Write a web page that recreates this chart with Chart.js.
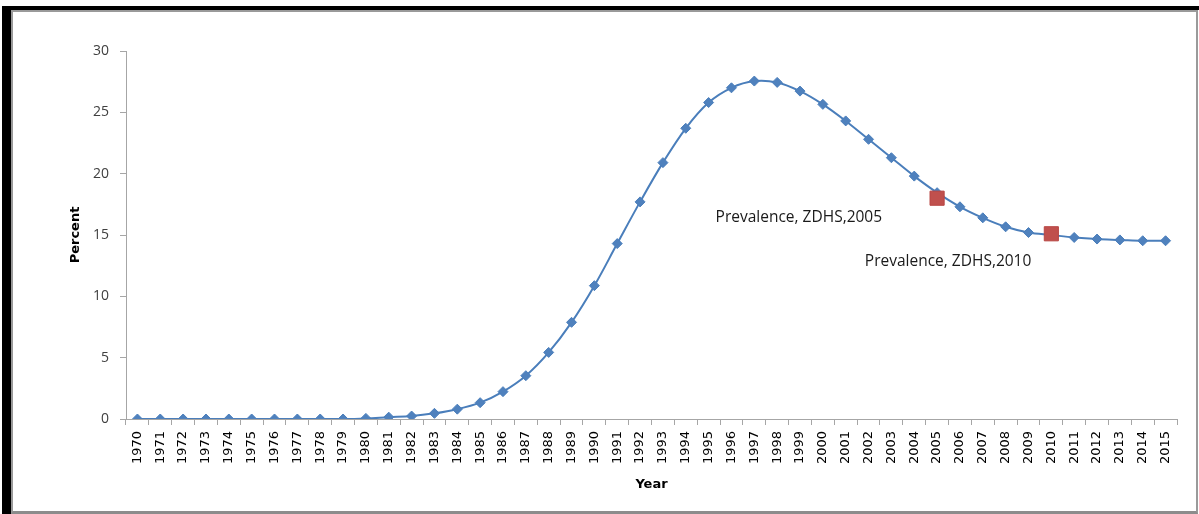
<!DOCTYPE html>
<html>
<head>
<meta charset="utf-8">
<script src="https://cdn.jsdelivr.net/npm/chart.js@4.4.1/dist/chart.umd.min.js"></script>
<style>
  html, body { margin: 0; padding: 0; background: #ffffff; }
  #wrap { position: relative; width: 1199px; height: 514px; overflow: hidden; background: #fff; }
  #c { position: absolute; left: 0; top: 0; }
  #frameBlack { position: absolute; left: 2px; top: 6px; right: 0; bottom: 0;
    border-left: 9px solid #000; border-top: 4px solid #000; pointer-events: none; }
  #frameGrey { position: absolute; left: 11px; top: 10px; right: 1px; bottom: 0;
    border-left: 2px solid #9a9a9a; border-top: 2px solid #9a9a9a;
    border-right: 2px solid #9a9a9a; border-bottom: 3px solid #8c8c8c; pointer-events: none; }
</style>
</head>
<body>
<div id="wrap">
  <canvas id="c" width="1199" height="514"></canvas>
  <div id="frameBlack"></div>
  <div id="frameGrey"></div>
</div>
<script>
// ---- Data ----
const years = ['1970','1971','1972','1973','1974','1975','1976','1977','1978','1979',
  '1980','1981','1982','1983','1984','1985','1986','1987','1988','1989',
  '1990','1991','1992','1993','1994','1995','1996','1997','1998','1999',
  '2000','2001','2002','2003','2004','2005','2006','2007','2008','2009',
  '2010','2011','2012','2013','2014','2015'];
const estimatedPrevalence = [0,0,0,0,0,0,0,0,0,0,
  0.05,0.15,0.24,0.46,0.8,1.33,2.23,3.53,5.43,7.88,
  10.87,14.3,17.7,20.9,23.7,25.8,27.0,27.55,27.44,26.73,
  25.65,24.3,22.8,21.3,19.8,18.45,17.3,16.4,15.67,15.2,
  15.0,14.8,14.67,14.6,14.53,14.53];
const surveyYears = ['2005','2010'];
const surveyValues = [18.0, 15.1];
const surveyLabels = ['Prevalence, ZDHS,2005', 'Prevalence, ZDHS,2010'];
const yTicks = [0,5,10,15,20,25,30];
const yTitle = 'Percent';
const xTitle = 'Year';

// label placement relative to each survey marker (styling, not data)
const labelOffsets = [{dx: -55, dy: 19}, {dx: -20, dy: 28}];

const surveyLabelPlugin = {
  id: 'surveyLabels',
  afterDatasetsDraw(chart) {
    const meta = chart.getDatasetMeta(1);
    const ctx = chart.ctx;
    ctx.save();
    ctx.font = '15.5px "Open Sans", "Noto Sans", sans-serif';
    ctx.fillStyle = '#1a1a1a';
    ctx.textAlign = 'right';
    ctx.textBaseline = 'middle';
    meta.data.forEach((pt, i) => {
      const off = labelOffsets[i];
      ctx.fillText(surveyLabels[i], pt.x + off.dx, pt.y + off.dy);
    });
    ctx.restore();
  }
};

new Chart(document.getElementById('c'), {
  type: 'line',
  data: {
    labels: years,
    datasets: [
      {
        label: 'Estimated prevalence',
        data: estimatedPrevalence,
        borderColor: '#4A7EBB',
        backgroundColor: '#4F81BD',
        borderWidth: 2,
        pointStyle: 'rectRot',
        pointRadius: 5,
        pointBorderWidth: 1,
        pointBorderColor: '#4A7EBB',
        pointBackgroundColor: '#4F81BD',
        tension: 0.35,
        fill: false,
        order: 1
      },
      {
        label: 'ZDHS',
        data: surveyYears.map((y, i) => ({x: y, y: surveyValues[i]})),
        showLine: false,
        pointStyle: 'rect',
        pointRadius: 10,
        pointBorderWidth: 1,
        pointBorderColor: '#B84744',
        pointBackgroundColor: '#C0504D',
        order: 0
      }
    ]
  },
  options: {
    responsive: false,
    animation: false,
    devicePixelRatio: 1,
    layout: { padding: { top: 51, right: 22, bottom: 0, left: 0 } },
    plugins: { legend: { display: false }, tooltip: { enabled: false } },
    scales: {
      x: {
        type: 'category',
        offset: true,
        grid: { display: true, offset: true, drawOnChartArea: false, drawTicks: true,
                tickLength: 6, color: '#a6a6a6' },
        border: { display: true, color: '#a6a6a6', width: 1 },
        ticks: {
          autoSkip: false, minRotation: 90, maxRotation: 90, padding: 6,
          color: '#000',
          font: { family: '"DejaVu Sans", sans-serif', size: 13 }
        },
        title: {
          display: true, text: xTitle, color: '#000',
          font: { family: '"DejaVu Sans", sans-serif', size: 13, weight: 'bold' },
          padding: { top: 0, bottom: 22 }
        },
        afterFit(scale) { scale.height = 95; }
      },
      y: {
        min: 0, max: 30,
        afterBuildTicks(scale) { scale.ticks = yTicks.map(v => ({value: v})); },
        grid: { display: true, drawOnChartArea: false, drawTicks: true,
                tickLength: 6, color: '#a6a6a6' },
        border: { display: true, color: '#a6a6a6', width: 1 },
        ticks: {
          padding: 11, color: '#404040',
          font: { family: '"Open Sans", sans-serif', size: 14 }
        },
        title: {
          display: true, text: yTitle, color: '#000',
          font: { family: '"DejaVu Sans", sans-serif', size: 13, weight: 'bold' },
          padding: { top: 68, bottom: 0 }
        },
        afterFit(scale) { scale.width = 126; }
      }
    }
  },
  plugins: [surveyLabelPlugin]
});
</script>
</body>
</html>
